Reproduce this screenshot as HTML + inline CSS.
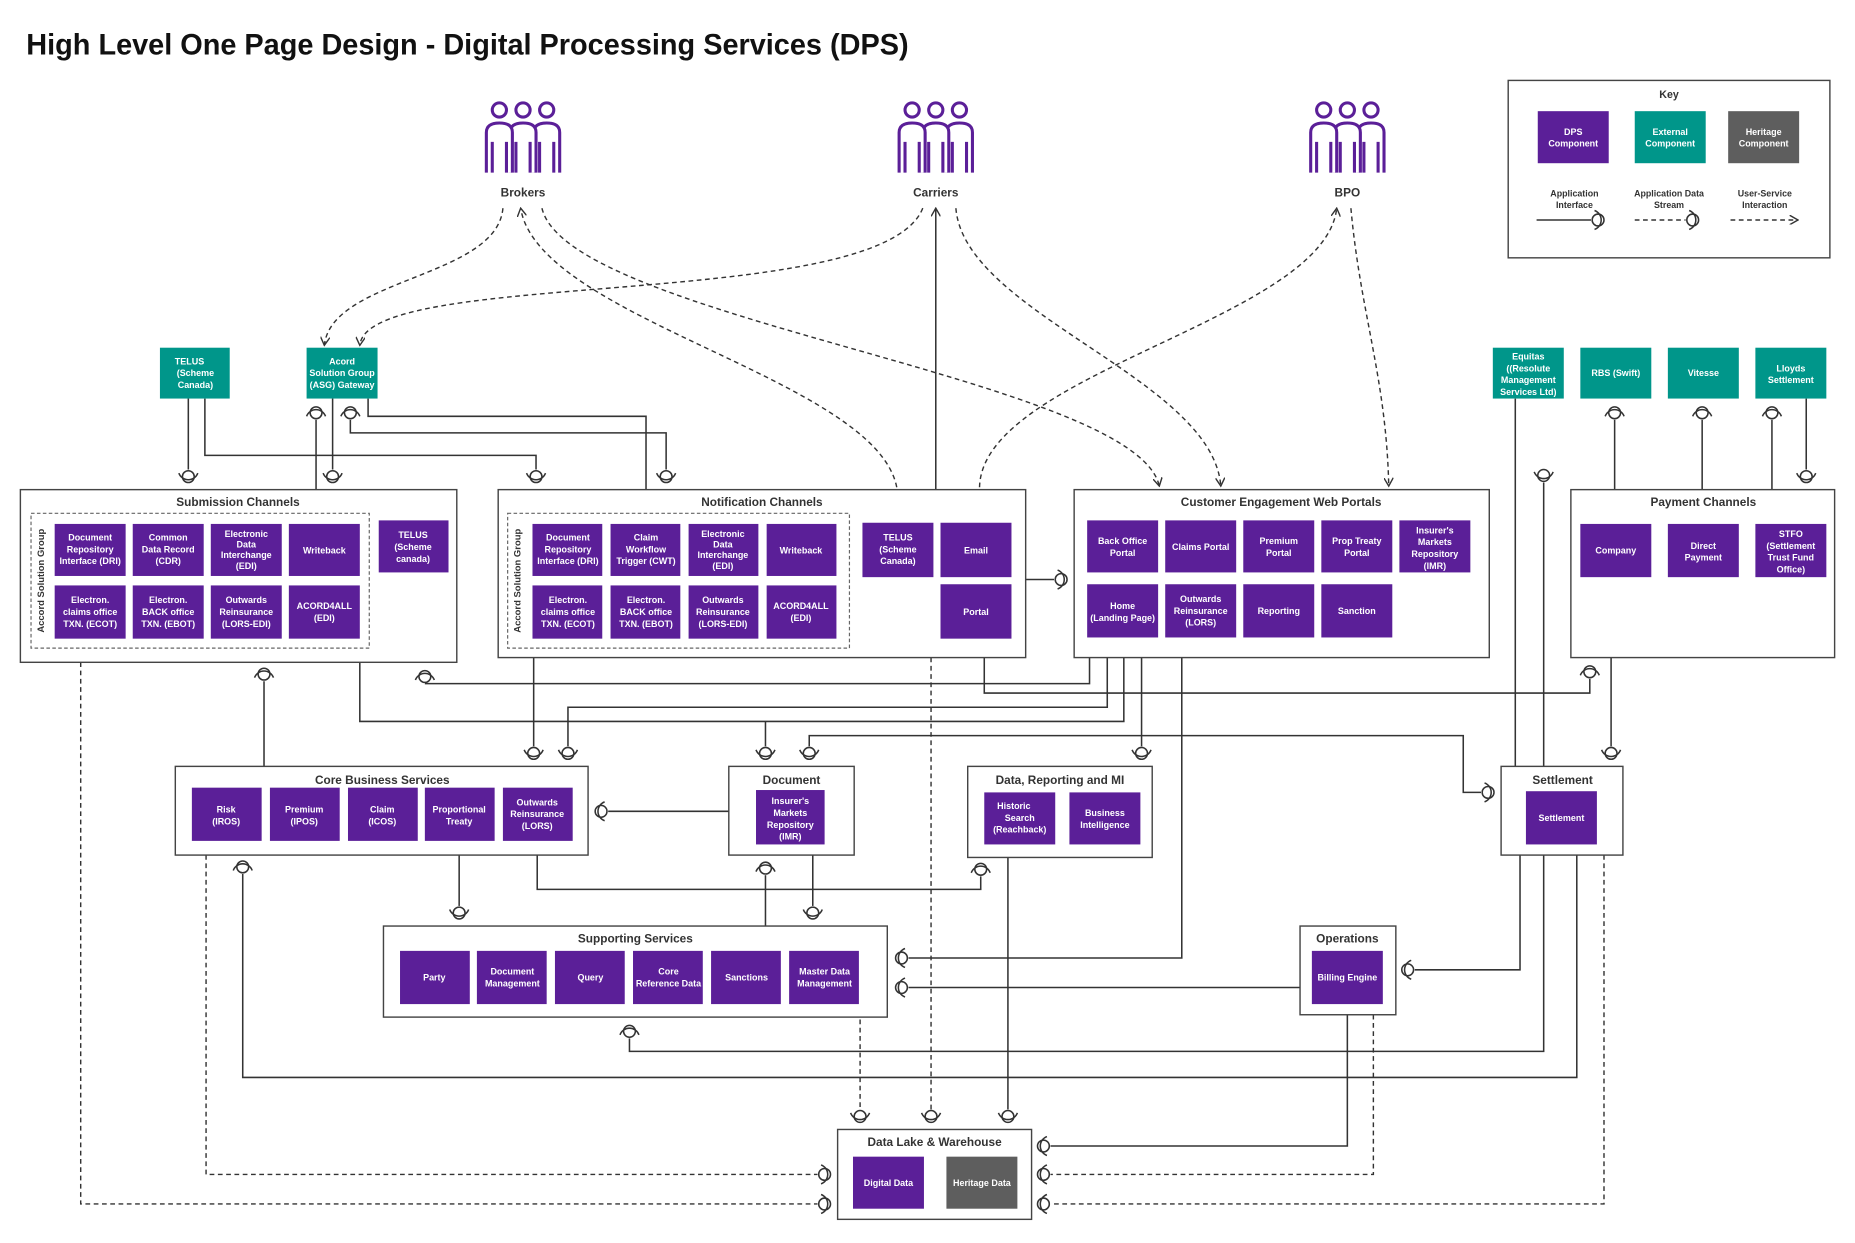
<!DOCTYPE html>
<html><head><meta charset="utf-8"><style>
html,body{margin:0;padding:0;background:#fff}
svg{display:block}
text{font-family:"Liberation Sans",sans-serif}
.t{font-size:7.6px;font-weight:bold;fill:#fff;text-anchor:middle}
.h{font-size:10px;font-weight:bold;fill:#333;text-anchor:middle}
.p{fill:#5b1f98}.e{fill:#00968a}.g{fill:#5e5e5e}
.ln{fill:none;stroke:#333;stroke-width:1.3}
.dl{fill:none;stroke:#333;stroke-width:1.2;stroke-dasharray:4 3}
.bx{fill:#fff;stroke:#444;stroke-width:1.2}
</style></head><body>
<svg width="1855" height="1243" viewBox="0 0 1568 1051" xmlns="http://www.w3.org/2000/svg">
<defs>
<g id="s"><circle r="5" fill="#fff" stroke="#333" stroke-width="1.3"/><path d="M-8,-3 A8.5,8.5 0 0 0 8,-3" fill="none" stroke="#333" stroke-width="1.3"/></g>
<marker id="a" markerWidth="8" markerHeight="8" refX="7" refY="4" orient="auto" markerUnits="userSpaceOnUse"><path d="M0,0 L7,4 L0,8" fill="none" stroke="#333" stroke-width="1.2"/></marker>
<g id="pp" fill="#fff" stroke="#5b1f98" stroke-width="2.6" stroke-linejoin="round">
<g transform="translate(20,0)"><circle cx="0" cy="-25" r="6"/><path d="M-11,28 V-6 Q-11,-14 0,-14 Q11,-14 11,-6 V28 M-6,28 V2 M6,28 V2"/></g>
<g transform="translate(0,0)"><circle cx="0" cy="-25" r="6"/><path d="M-11,28 V-6 Q-11,-14 0,-14 Q11,-14 11,-6 V28 M-6,28 V2 M6,28 V2"/></g>
<g transform="translate(-20,0)"><circle cx="0" cy="-25" r="6"/><path d="M-11,28 V-6 Q-11,-14 0,-14 Q11,-14 11,-6 V28 M-6,28 V2 M6,28 V2"/></g>
</g>
</defs>

<text x="22" y="46" textLength="746" lengthAdjust="spacingAndGlyphs" style="font-size:25px;font-weight:bold;fill:#111">High Level One Page Design - Digital Processing Services (DPS)</text>

<!-- Key -->
<rect x="1275" y="68" width="272" height="150" class="bx"/>
<text x="1411" y="83" class="h" style="font-size:9px">Key</text>
<rect x="1300" y="94" width="60" height="44" class="p"/><text class="t" x="1330" y="114">DPS<tspan x="1330" dy="10">Component</tspan></text>
<rect x="1382" y="94" width="60" height="44" class="e"/><text class="t" x="1412" y="114">External<tspan x="1412" dy="10">Component</tspan></text>
<rect x="1461" y="94" width="60" height="44" class="g"/><text class="t" x="1491" y="114">Heritage<tspan x="1491" dy="10">Component</tspan></text>
<text class="h" style="font-size:7.5px" x="1331" y="166">Application<tspan x="1331" dy="10">Interface</tspan></text>
<text class="h" style="font-size:7.5px" x="1411" y="166">Application Data<tspan x="1411" dy="10">Stream</tspan></text>
<text class="h" style="font-size:7.5px" x="1492" y="166">User-Service<tspan x="1492" dy="10">Interaction</tspan></text>
<path class="ln" d="M1299,186 H1345"/><use href="#s" transform="translate(1351,186) rotate(-90)"/>
<path class="dl" d="M1382,186 H1425"/><use href="#s" transform="translate(1431,186) rotate(-90)"/>
<path class="dl" d="M1463,186 H1520" marker-end="url(#a)"/>

<!-- People -->
<use href="#pp" transform="translate(442,118)"/><text class="h" x="442" y="166">Brokers</text>
<use href="#pp" transform="translate(791,118)"/><text class="h" x="791" y="166">Carriers</text>
<use href="#pp" transform="translate(1139,118)"/><text class="h" x="1139" y="166">BPO</text>

<!-- user dashed arrows -->
<path class="dl" d="M425,176 C420,235 280,235 274,292" marker-end="url(#a)"/>
<path class="dl" d="M780,176 C745,265 310,225 304,292" marker-end="url(#a)"/>
<path class="dl" d="M758,412 C740,320 455,270 440,176" marker-end="url(#a)"/>
<path class="dl" d="M458,176 C480,270 960,320 980,411" marker-end="url(#a)"/>
<path class="ln" d="M791,414 V176" marker-end="url(#a)"/>
<path class="dl" d="M808,176 C815,265 1025,320 1032,411" marker-end="url(#a)"/>
<path class="dl" d="M828,412 C830,315 1120,270 1130,176" marker-end="url(#a)"/>
<path class="dl" d="M1142,176 C1150,265 1172,320 1174,411" marker-end="url(#a)"/>

<!-- connectors -->
<g>
<path class="ln" d="M159,337 V397"/><use href="#s" transform="translate(159,403)"/>
<path class="ln" d="M173,337 V385 H453 V397"/><use href="#s" transform="translate(453,403)"/>
<path class="ln" d="M267,355 V414"/><use href="#s" transform="translate(267,349) rotate(180)"/>
<path class="ln" d="M281,337 V397"/><use href="#s" transform="translate(281,403)"/>
<path class="ln" d="M296,355 V366 H563 V397"/><use href="#s" transform="translate(296,349) rotate(180)"/><use href="#s" transform="translate(563,403)"/>
<path class="ln" d="M311,337 V352 H546 V414"/>
<path class="ln" d="M223,576 V648"/><use href="#s" transform="translate(223,570) rotate(180)"/>
<path class="ln" d="M304,560 V610 H950 V556"/>
<path class="ln" d="M359,578 H921 V556"/><use href="#s" transform="translate(359,572) rotate(180)"/>
<path class="ln" d="M451,556 V631"/><use href="#s" transform="translate(451,637)"/>
<path class="ln" d="M480,631 V598 H936 V556"/><use href="#s" transform="translate(480,637)"/>
<path class="ln" d="M647,631 V610"/><use href="#s" transform="translate(647,637)"/>
<path class="ln" d="M684,631 V622 H1237 V670 H1252"/><use href="#s" transform="translate(684,637)"/><use href="#s" transform="translate(1258,670) rotate(-90)"/>
<path class="ln" d="M965,556 V631"/><use href="#s" transform="translate(965,637)"/>
<path class="ln" d="M832,556 V586 H1344 V574"/><use href="#s" transform="translate(1344,568) rotate(180)"/>
<path class="ln" d="M1362,556 V631"/><use href="#s" transform="translate(1362,637)"/>
<path class="ln" d="M999,556 V810 H768"/><use href="#s" transform="translate(762,810) rotate(90)"/>
<path class="ln" d="M768,835 H1099"/><use href="#s" transform="translate(762,835) rotate(90)"/>
<path class="ln" d="M514,686 H616"/><use href="#s" transform="translate(508,686) rotate(90)"/>
<path class="ln" d="M388,723 V766"/><use href="#s" transform="translate(388,772)"/>
<path class="ln" d="M205,739 V911 H1333 V723"/><use href="#s" transform="translate(205,733) rotate(180)"/>
<path class="dl" d="M174,723 V993 H691"/><use href="#s" transform="translate(697,993) rotate(-90)"/>
<path class="dl" d="M68,560 V1018 H691"/><use href="#s" transform="translate(697,1018) rotate(-90)"/>
<path class="ln" d="M647,740 V783"/><use href="#s" transform="translate(647,734) rotate(180)"/>
<path class="ln" d="M687,723 V766"/><use href="#s" transform="translate(687,772)"/>
<path class="ln" d="M454,723 V752 H829 V741"/><use href="#s" transform="translate(829,735) rotate(180)"/>
<path class="ln" d="M852,725 V938"/><use href="#s" transform="translate(852,944)"/>
<path class="dl" d="M787,556 V938"/><use href="#s" transform="translate(787,944)"/>
<path class="dl" d="M727,848 V938"/><use href="#s" transform="translate(727,944)"/>
<path class="ln" d="M532,878 V889 H1305 V408"/><use href="#s" transform="translate(532,872) rotate(180)"/><use href="#s" transform="translate(1305,402)"/>
<path class="ln" d="M1196,820 H1285 V723"/><use href="#s" transform="translate(1190,820) rotate(90)"/>
<path class="ln" d="M1139,858 V969 H888"/><use href="#s" transform="translate(882,969) rotate(90)"/>
<path class="dl" d="M1161,858 V993 H888"/><use href="#s" transform="translate(882,993) rotate(90)"/>
<path class="dl" d="M1356,723 V1018 H888"/><use href="#s" transform="translate(882,1018) rotate(90)"/>
<path class="ln" d="M1281,337 V648"/>
<path class="ln" d="M1365,355 V414"/><use href="#s" transform="translate(1365,349) rotate(180)"/>
<path class="ln" d="M1439,355 V414"/><use href="#s" transform="translate(1439,349) rotate(180)"/>
<path class="ln" d="M1498,355 V414"/><use href="#s" transform="translate(1498,349) rotate(180)"/>
<path class="ln" d="M1527,337 V397"/><use href="#s" transform="translate(1527,403)"/>
<path class="ln" d="M867,490 H891"/><use href="#s" transform="translate(897,490) rotate(-90)"/>
</g>

<!-- teal external -->
<rect x="135" y="294" width="59" height="43" class="e"/><text class="t" x="160" y="308">TELUS<tspan x="165" dy="10">(Scheme</tspan><tspan x="165" dy="10">Canada)</tspan></text>
<rect x="259" y="294" width="60" height="43" class="e"/><text class="t" x="289" y="308">Acord<tspan x="289" dy="10">Solution Group</tspan><tspan x="289" dy="10">(ASG) Gateway</tspan></text>
<rect x="1262" y="294" width="60" height="43" class="e"/><text class="t" x="1292" y="304">Equitas<tspan x="1292" dy="10">((Resolute</tspan><tspan x="1292" dy="10">Management</tspan><tspan x="1292" dy="10">Services Ltd)</tspan></text>
<rect x="1336" y="294" width="60" height="43" class="e"/><text class="t" x="1366" y="318">RBS (Swift)</text>
<rect x="1410" y="294" width="60" height="43" class="e"/><text class="t" x="1440" y="318">Vitesse</text>
<rect x="1484" y="294" width="60" height="43" class="e"/><text class="t" x="1514" y="314">Lloyds<tspan x="1514" dy="10">Settlement</tspan></text>

<!-- Submission -->
<rect x="17" y="414" width="369" height="146" class="bx"/>
<text class="h" x="201" y="428">Submission Channels</text>
<rect x="26" y="434" width="286" height="114" fill="none" stroke="#666" stroke-dasharray="3 2"/>
<text x="37" y="491" transform="rotate(-90 37 491)" style="font-size:8px;font-weight:bold;fill:#333;text-anchor:middle">Accord Solution Group</text>
<rect x="46" y="443" width="60" height="44" class="p"/><text class="t" x="76" y="457">Document<tspan x="76" dy="10">Repository</tspan><tspan x="76" dy="10">Interface (DRI)</tspan></text>
<rect x="112" y="443" width="60" height="44" class="p"/><text class="t" x="142" y="457">Common<tspan x="142" dy="10">Data Record</tspan><tspan x="142" dy="10">(CDR)</tspan></text>
<rect x="178" y="443" width="60" height="44" class="p"/><text class="t" x="208" y="454">Electronic<tspan x="208" dy="9">Data</tspan><tspan x="208" dy="9">Interchange</tspan><tspan x="208" dy="9">(EDI)</tspan></text>
<rect x="244" y="443" width="60" height="44" class="p"/><text class="t" x="274" y="468">Writeback</text>
<rect x="46" y="495" width="60" height="45" class="p"/><text class="t" x="76" y="510">Electron.<tspan x="76" dy="10">claims office</tspan><tspan x="76" dy="10">TXN. (ECOT)</tspan></text>
<rect x="112" y="495" width="60" height="45" class="p"/><text class="t" x="142" y="510">Electron.<tspan x="142" dy="10">BACK office</tspan><tspan x="142" dy="10">TXN. (EBOT)</tspan></text>
<rect x="178" y="495" width="60" height="45" class="p"/><text class="t" x="208" y="510">Outwards<tspan x="208" dy="10">Reinsurance</tspan><tspan x="208" dy="10">(LORS-EDI)</tspan></text>
<rect x="244" y="495" width="60" height="45" class="p"/><text class="t" x="274" y="515">ACORD4ALL<tspan x="274" dy="10">(EDI)</tspan></text>
<rect x="320" y="440" width="59" height="44" class="p"/><text class="t" x="349" y="455">TELUS<tspan x="349" dy="10">(Scheme</tspan><tspan x="349" dy="10">canada)</tspan></text>

<!-- Notification -->
<rect x="421" y="414" width="446" height="142" class="bx"/>
<text class="h" x="644" y="428">Notification Channels</text>
<rect x="429" y="434" width="289" height="114" fill="none" stroke="#666" stroke-dasharray="3 2"/>
<text x="440" y="491" transform="rotate(-90 440 491)" style="font-size:8px;font-weight:bold;fill:#333;text-anchor:middle">Accord Solution Group</text>
<rect x="450" y="443" width="59" height="44" class="p"/><text class="t" x="480" y="457">Document<tspan x="480" dy="10">Repository</tspan><tspan x="480" dy="10">Interface (DRI)</tspan></text>
<rect x="516" y="443" width="59" height="44" class="p"/><text class="t" x="546" y="457">Claim<tspan x="546" dy="10">Workflow</tspan><tspan x="546" dy="10">Trigger (CWT)</tspan></text>
<rect x="582" y="443" width="59" height="44" class="p"/><text class="t" x="611" y="454">Electronic<tspan x="611" dy="9">Data</tspan><tspan x="611" dy="9">Interchange</tspan><tspan x="611" dy="9">(EDI)</tspan></text>
<rect x="648" y="443" width="59" height="44" class="p"/><text class="t" x="677" y="468">Writeback</text>
<rect x="450" y="495" width="59" height="45" class="p"/><text class="t" x="480" y="510">Electron.<tspan x="480" dy="10">claims office</tspan><tspan x="480" dy="10">TXN. (ECOT)</tspan></text>
<rect x="516" y="495" width="59" height="45" class="p"/><text class="t" x="546" y="510">Electron.<tspan x="546" dy="10">BACK office</tspan><tspan x="546" dy="10">TXN. (EBOT)</tspan></text>
<rect x="582" y="495" width="59" height="45" class="p"/><text class="t" x="611" y="510">Outwards<tspan x="611" dy="10">Reinsurance</tspan><tspan x="611" dy="10">(LORS-EDI)</tspan></text>
<rect x="648" y="495" width="59" height="45" class="p"/><text class="t" x="677" y="515">ACORD4ALL<tspan x="677" dy="10">(EDI)</tspan></text>
<rect x="729" y="442" width="60" height="46" class="p"/><text class="t" x="759" y="457">TELUS<tspan x="759" dy="10">(Scheme</tspan><tspan x="759" dy="10">Canada)</tspan></text>
<rect x="795" y="442" width="60" height="46" class="p"/><text class="t" x="825" y="468">Email</text>
<rect x="795" y="494" width="60" height="46" class="p"/><text class="t" x="825" y="520">Portal</text>

<!-- Customer Engagement -->
<rect x="908" y="414" width="351" height="142" class="bx"/>
<text class="h" x="1083" y="428">Customer Engagement Web Portals</text>
<rect x="919" y="440" width="60" height="44" class="p"/><text class="t" x="949" y="460">Back Office<tspan x="949" dy="10">Portal</tspan></text>
<rect x="985" y="440" width="60" height="44" class="p"/><text class="t" x="1015" y="465">Claims Portal</text>
<rect x="1051" y="440" width="60" height="44" class="p"/><text class="t" x="1081" y="460">Premium<tspan x="1081" dy="10">Portal</tspan></text>
<rect x="1117" y="440" width="60" height="44" class="p"/><text class="t" x="1147" y="460">Prop Treaty<tspan x="1147" dy="10">Portal</tspan></text>
<rect x="1183" y="440" width="60" height="44" class="p"/><text class="t" x="1213" y="451">Insurer's<tspan x="1213" dy="10">Markets</tspan><tspan x="1213" dy="10">Repository</tspan><tspan x="1213" dy="10">(IMR)</tspan></text>
<rect x="919" y="494" width="60" height="45" class="p"/><text class="t" x="949" y="515">Home<tspan x="949" dy="10">(Landing Page)</tspan></text>
<rect x="985" y="494" width="60" height="45" class="p"/><text class="t" x="1015" y="509">Outwards<tspan x="1015" dy="10">Reinsurance</tspan><tspan x="1015" dy="10">(LORS)</tspan></text>
<rect x="1051" y="494" width="60" height="45" class="p"/><text class="t" x="1081" y="519">Reporting</text>
<rect x="1117" y="494" width="60" height="45" class="p"/><text class="t" x="1147" y="519">Sanction</text>

<!-- Payment -->
<rect x="1328" y="414" width="223" height="142" class="bx"/>
<text class="h" x="1440" y="428">Payment Channels</text>
<rect x="1336" y="443" width="60" height="45" class="p"/><text class="t" x="1366" y="468">Company</text>
<rect x="1410" y="443" width="60" height="45" class="p"/><text class="t" x="1440" y="464">Direct<tspan x="1440" dy="10">Payment</tspan></text>
<rect x="1484" y="443" width="60" height="45" class="p"/><text class="t" x="1514" y="454">STFO<tspan x="1514" dy="10">(Settlement</tspan><tspan x="1514" dy="10">Trust Fund</tspan><tspan x="1514" dy="10">Office)</tspan></text>

<!-- Core Business -->
<rect x="148" y="648" width="349" height="75" class="bx"/>
<text class="h" x="323" y="663">Core Business Services</text>
<rect x="162" y="666" width="59" height="45" class="p"/><text class="t" x="191" y="687">Risk<tspan x="191" dy="10">(IROS)</tspan></text>
<rect x="228" y="666" width="59" height="45" class="p"/><text class="t" x="257" y="687">Premium<tspan x="257" dy="10">(IPOS)</tspan></text>
<rect x="294" y="666" width="59" height="45" class="p"/><text class="t" x="323" y="687">Claim<tspan x="323" dy="10">(ICOS)</tspan></text>
<rect x="359" y="666" width="59" height="45" class="p"/><text class="t" x="388" y="687">Proportional<tspan x="388" dy="10">Treaty</tspan></text>
<rect x="425" y="666" width="59" height="45" class="p"/><text class="t" x="454" y="681">Outwards<tspan x="454" dy="10">Reinsurance</tspan><tspan x="454" dy="10">(LORS)</tspan></text>

<!-- Document -->
<rect x="616" y="648" width="106" height="75" class="bx"/>
<text class="h" x="669" y="663">Document</text>
<rect x="639" y="668" width="58" height="46" class="p"/><text class="t" x="668" y="680">Insurer's<tspan x="668" dy="10">Markets</tspan><tspan x="668" dy="10">Repository</tspan><tspan x="668" dy="10">(IMR)</tspan></text>

<!-- Data reporting -->
<rect x="818" y="648" width="156" height="77" class="bx"/>
<text class="h" x="896" y="663">Data, Reporting and MI</text>
<rect x="832" y="670" width="60" height="44" class="p"/><text class="t" x="857" y="684">Historic<tspan x="862" dy="10">Search</tspan><tspan x="862" dy="10">(Reachback)</tspan></text>
<rect x="904" y="670" width="60" height="44" class="p"/><text class="t" x="934" y="690">Business<tspan x="934" dy="10">Intelligence</tspan></text>

<!-- Settlement -->
<rect x="1269" y="648" width="103" height="75" class="bx"/>
<text class="h" x="1321" y="663">Settlement</text>
<rect x="1290" y="669" width="60" height="45" class="p"/><text class="t" x="1320" y="694">Settlement</text>

<!-- Supporting -->
<rect x="324" y="783" width="426" height="77" class="bx"/>
<text class="h" x="537" y="797">Supporting Services</text>
<rect x="338" y="804" width="59" height="45" class="p"/><text class="t" x="367" y="829">Party</text>
<rect x="403" y="804" width="59" height="45" class="p"/><text class="t" x="433" y="824">Document<tspan x="433" dy="10">Management</tspan></text>
<rect x="469" y="804" width="59" height="45" class="p"/><text class="t" x="499" y="829">Query</text>
<rect x="535" y="804" width="59" height="45" class="p"/><text class="t" x="565" y="824">Core<tspan x="565" dy="10">Reference Data</tspan></text>
<rect x="601" y="804" width="59" height="45" class="p"/><text class="t" x="631" y="829">Sanctions</text>
<rect x="667" y="804" width="59" height="45" class="p"/><text class="t" x="697" y="824">Master Data<tspan x="697" dy="10">Management</tspan></text>

<!-- Operations -->
<rect x="1099" y="783" width="81" height="75" class="bx"/>
<text class="h" x="1139" y="797">Operations</text>
<rect x="1109" y="804" width="60" height="45" class="p"/><text class="t" x="1139" y="829">Billing Engine</text>

<!-- Data Lake -->
<rect x="708" y="955" width="164" height="76" class="bx"/>
<text class="h" x="790" y="969">Data Lake &amp; Warehouse</text>
<rect x="721" y="978" width="60" height="44" class="p"/><text class="t" x="751" y="1003">Digital Data</text>
<rect x="800" y="978" width="60" height="44" class="g"/><text class="t" x="830" y="1003">Heritage Data</text>
</svg>
</body></html>
